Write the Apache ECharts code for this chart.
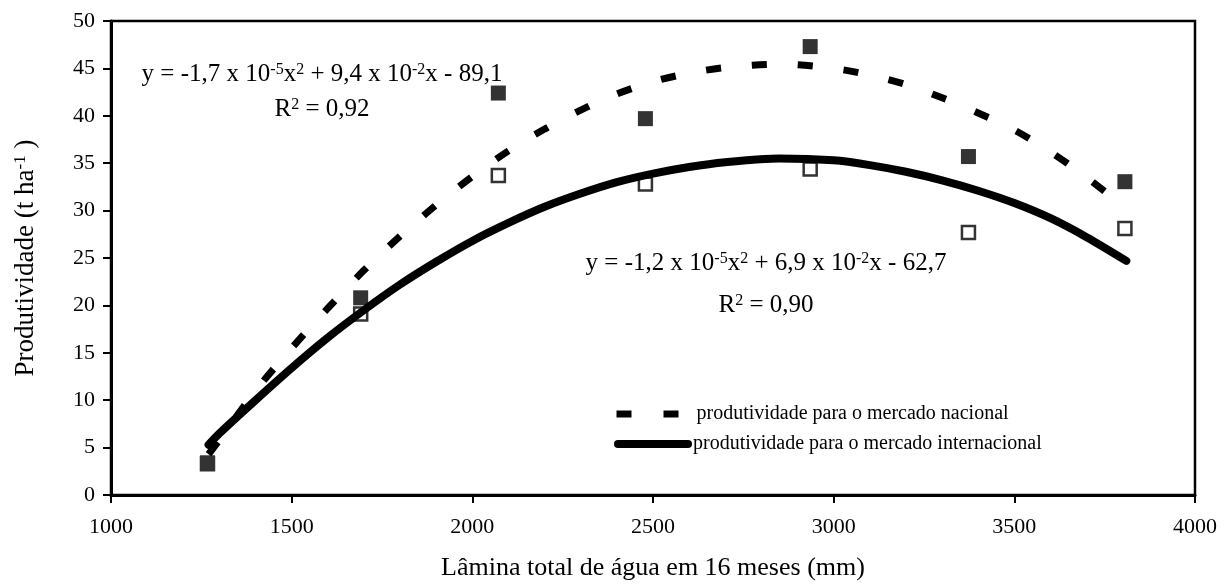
<!DOCTYPE html>
<html>
<head>
<meta charset="utf-8">
<script src="https://cdn.jsdelivr.net/npm/echarts@6/dist/echarts.min.js"></script>
<style>
html,body{margin:0;padding:0;background:#fff;}
#chart{width:1231px;height:586px;}
</style>
</head>
<body>
<div id="chart"></div>
<script>
// ---- data ----
const xMin = 1000, xMax = 4000, xStep = 500;
const yMin = 0, yMax = 50, yStep = 5;

const seriesNames = ['produtividade para o mercado nacional', 'produtividade para o mercado internacional'];

// observed points (lâmina mm, produtividade t/ha)
const nacionalPts = [[1267, 3.4], [1691, 20.8], [2072, 42.4], [2479, 39.7], [2935, 47.3], [3373, 35.7], [3806, 33.05]];
const internacionalPts = [[1267, 3.3], [1691, 19.1], [2072, 33.7], [2479, 32.8], [2935, 34.4], [3373, 27.7], [3806, 28.1]];

// trend curves
const curveX = [1270, 1300, 1400, 1500, 1600, 1700, 1800, 1900, 2000, 2100, 2200, 2300, 2400, 2500, 2600, 2700, 2850, 3000, 3100, 3200, 3300, 3400, 3500, 3600, 3700, 3810];
const nacionalCurveY = [4.3, 5.8, 11.0, 15.5, 19.7, 23.7, 27.3, 30.6, 33.6, 36.3, 38.6, 40.6, 42.3, 43.6, 44.5, 45.1, 45.45, 45.0, 44.3, 43.3, 41.9, 40.3, 38.5, 36.2, 33.5, 30.2];
const internacionalCurveY = [5.3, 6.5, 10.0, 13.4, 16.6, 19.5, 22.2, 24.6, 26.8, 28.7, 30.4, 31.8, 33.0, 33.9, 34.6, 35.1, 35.5, 35.3, 34.8, 34.1, 33.2, 32.1, 30.8, 29.2, 27.2, 24.7];

const eqNacional = ['y = -1,7 x 10{sup|-5}x{sup|2} + 9,4 x 10{sup|-2}x - 89,1', 'R{sup|2} = 0,92'];
const eqInternacional = ['y = -1,2 x 10{sup|-5}x{sup|2} + 6,9 x 10{sup|-2}x - 62,7', 'R{sup|2} = 0,90'];

const xTitle = 'Lâmina total de água em 16 meses (mm)';
const yTitle = 'Produtividade (t ha{sup|-1} )';

// ---- chart ----
const FONT = 'Liberation Serif';
const zip = (xs, ys) => xs.map((x, i) => [x, ys[i]]);

function eqText(str, x, y, fs) {
  return {
    type: 'text', x: x, y: y, z: 10,
    style: {
      text: str, x: 0, y: 0, align: 'center', verticalAlign: 'middle',
      fontFamily: FONT, fontSize: fs, fill: '#000', lineHeight: fs,
      rich: { sup: { fontSize: 16, verticalAlign: 'top', lineHeight: 6, fontFamily: FONT, fill: '#000' } }
    }
  };
}

const chart = echarts.init(document.getElementById('chart'));
chart.setOption({
  animation: false,
  backgroundColor: '#fff',
  grid: { left: 111, right: 36, top: 21, bottom: 91, show: true, borderColor: '#000', borderWidth: 2.5, backgroundColor: 'transparent' },
  xAxis: {
    type: 'value', min: xMin, max: xMax, interval: xStep,
    name: xTitle, nameLocation: 'middle', nameGap: 60,
    nameTextStyle: { fontFamily: FONT, fontSize: 26, color: '#000' },
    axisLine: { show: true, lineStyle: { color: '#000', width: 3 } },
    axisTick: { show: true, length: 8, lineStyle: { color: '#000', width: 2 } },
    axisLabel: { fontFamily: FONT, fontSize: 22, color: '#000', margin: 21, formatter: (v) => String(v) },
    splitLine: { show: false }
  },
  yAxis: {
    type: 'value', min: yMin, max: yMax, interval: yStep,
    name: yTitle, nameLocation: 'middle', nameGap: 72, nameRotate: 90,
    nameTextStyle: { fontFamily: FONT, fontSize: 27, color: '#000',
      rich: { sup: { fontSize: 17, verticalAlign: 'top', lineHeight: 6, fontFamily: FONT, color: '#000' } } },
    axisLine: { show: true, lineStyle: { color: '#000', width: 3 } },
    axisTick: { show: true, length: 8, lineStyle: { color: '#000', width: 2 } },
    axisLabel: { fontFamily: FONT, fontSize: 22, color: '#000', margin: 16, formatter: (v) => String(v) },
    splitLine: { show: false }
  },
  legend: [
    {
      data: [seriesNames[0]], left: 613, top: 404, itemWidth: 75, itemHeight: 8, padding: 0,
      textStyle: { fontFamily: FONT, fontSize: 20, color: '#000' },
      itemStyle: { opacity: 0 },
      lineStyle: { width: 7, type: [15, 32], cap: 'butt', color: '#000' }
    },
    {
      data: [seriesNames[1]], left: 614, top: 434, itemWidth: 70, itemHeight: 8, padding: 0,
      textStyle: { fontFamily: FONT, fontSize: 20, color: '#000' },
      itemStyle: { opacity: 0 },
      lineStyle: { width: 8, type: 'solid', cap: 'round', color: '#000' }
    }
  ],
  graphic: [
    eqText(eqNacional[0], 322, 74, 25),
    eqText(eqNacional[1], 322, 109, 25),
    eqText(eqInternacional[0], 766, 263, 25),
    eqText(eqInternacional[1], 766, 305, 25)
  ],
  series: [
    {
      name: 'internacional obs', type: 'scatter', data: internacionalPts, symbol: 'rect', symbolSize: 13,
      itemStyle: { color: '#fff', borderColor: '#333', borderWidth: 2.5, opacity: 1 }, z: 2, silent: true
    },
    {
      name: 'nacional obs', type: 'scatter', data: nacionalPts, symbol: 'rect', symbolSize: 15,
      itemStyle: { color: '#333', borderWidth: 0, opacity: 1 }, z: 3, silent: true
    },
    {
      name: seriesNames[1], type: 'line', data: zip(curveX, internacionalCurveY),
      smooth: 0.3, symbol: 'none', showSymbol: false, z: 4,
      lineStyle: { color: '#000', width: 8, cap: 'round', join: 'round' },
      itemStyle: { color: '#000' }
    },
    {
      name: seriesNames[0], type: 'line', data: zip(curveX, nacionalCurveY),
      smooth: 0.3, symbol: 'none', showSymbol: false, z: 5,
      lineStyle: { color: '#000', width: 7, type: [15, 31], cap: 'butt' },
      itemStyle: { color: '#000' }
    }
  ]
});
</script>
</body>
</html>
